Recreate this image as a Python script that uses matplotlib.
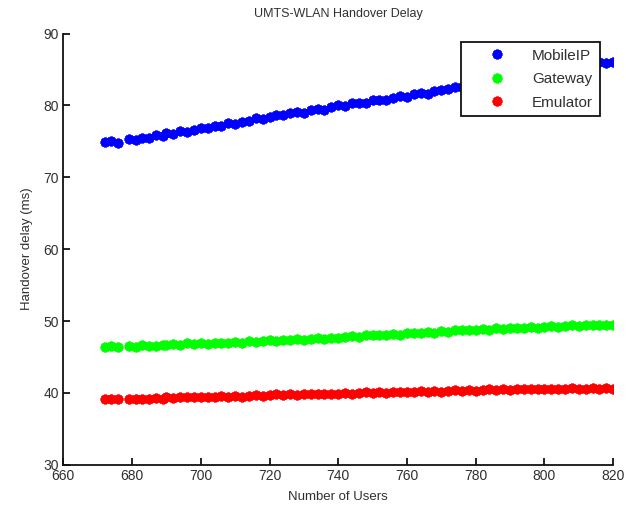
import matplotlib
matplotlib.use("Agg")

import matplotlib.pyplot as plt

# number of users (x) shared by all three series
users = [672, 674, 676,
         679, 681, 683, 685,
         687, 689,
         690, 692, 694, 696, 698, 700, 702, 704, 706, 708, 710, 712, 714, 716, 718,
         720, 722, 724, 726, 728, 730, 732, 734, 736, 738, 740, 742, 744, 746, 748,
         750, 752, 754, 756, 758, 760, 762, 764, 766, 768, 770, 772, 774, 776, 778,
         780, 782, 784, 786, 788, 790, 792, 794, 796, 798, 800, 802, 804, 806, 808,
         810, 812, 814, 816, 818, 820]

mobileip = [74.9, 75.0, 74.8,
            75.3, 75.2, 75.5, 75.4,
            75.9, 75.8,
            76.1, 76.0, 76.4, 76.3, 76.6, 76.9, 76.8, 77.2, 77.1, 77.5, 77.4, 77.7, 77.8, 78.2, 78.1,
            78.4, 78.7, 78.6, 79.0, 79.1, 79.0, 79.4, 79.5, 79.4, 79.8, 80.0, 79.9, 80.3, 80.4, 80.3,
            80.7, 80.8, 80.7, 81.1, 81.3, 81.2, 81.6, 81.7, 81.6, 82.0, 82.1, 82.3, 82.5, 82.6, 82.8,
            83.0, 83.1, 83.3, 83.5, 83.6, 83.8, 84.0, 84.1, 84.3, 84.5, 84.6, 84.8, 85.0, 85.2, 85.4,
            85.5, 85.7, 85.8, 86.0, 85.9, 86.1]

gateway = [46.4, 46.5, 46.4,
           46.5, 46.4, 46.6, 46.5,
           46.5, 46.6,
           46.7, 46.8, 46.7, 46.9, 46.8, 46.9, 46.8, 47.0, 46.9, 47.0, 47.1, 47.0, 47.2, 47.1, 47.2,
           47.3, 47.2, 47.4, 47.3, 47.5, 47.4, 47.5, 47.6, 47.5, 47.7, 47.7, 47.8, 47.9, 47.8, 48.0,
           48.0, 48.1, 48.0, 48.2, 48.1, 48.3, 48.3, 48.4, 48.5, 48.4, 48.6, 48.5, 48.7, 48.8, 48.7,
           48.8, 48.9, 48.8, 49.0, 48.9, 49.0, 49.1, 49.0, 49.2, 49.1, 49.2, 49.3, 49.2, 49.3, 49.4,
           49.3, 49.4, 49.5, 49.4, 49.5, 49.5]

emulator = [39.1, 39.2, 39.1,
            39.1, 39.2, 39.1, 39.2,
            39.3, 39.2,
            39.4, 39.3, 39.4, 39.5, 39.4, 39.5, 39.4, 39.5, 39.6, 39.5, 39.6, 39.5, 39.6, 39.7, 39.6,
            39.7, 39.8, 39.7, 39.8, 39.7, 39.8, 39.9, 39.8, 39.9, 39.8, 39.9, 40.0, 39.9, 40.0, 40.1,
            40.0, 40.1, 40.0, 40.1, 40.2, 40.1, 40.2, 40.3, 40.2, 40.3, 40.2, 40.3, 40.4, 40.3, 40.4,
            40.3, 40.4, 40.5, 40.4, 40.5, 40.4, 40.5, 40.6, 40.5, 40.6, 40.5, 40.6, 40.5, 40.6, 40.7,
            40.6, 40.6, 40.7, 40.6, 40.7, 40.6]

x_ticks = [660, 680, 700, 720, 740, 760, 780, 800, 820]
y_ticks = [30, 40, 50, 60, 70, 80, 90]

plt.rcParams["font.family"] = ["Liberation Sans", "DejaVu Sans"]
text_color = "#303030"

fig = plt.figure(figsize=(6.4, 5.08), dpi=100)
ax = fig.add_axes([0.099, 0.085, 0.859, 0.849])

# MATLAB-style asterisk markers
star = (8, 2, 0)
ax.plot(users, mobileip, linestyle="none", marker=star, markersize=7, mew=2.0,
        color="#0000ff", label="MobileIP")
ax.plot(users, gateway, linestyle="none", marker=star, markersize=7, mew=2.0,
        color="#00ff00", label="Gateway")
ax.plot(users, emulator, linestyle="none", marker=star, markersize=7, mew=2.0,
        color="#ff0000", label="Emulator")

ax.set_xlim(660, 820)
ax.set_ylim(30, 90)
ax.set_xticks(x_ticks)
ax.set_yticks(y_ticks)

for side in ("top", "right"):
    ax.spines[side].set_visible(False)
for side in ("left", "bottom"):
    ax.spines[side].set_linewidth(1.3)
    ax.spines[side].set_color("#111111")

ax.tick_params(direction="in", length=5, width=1.2, labelsize=10,
               labelcolor=text_color, pad=3)

ax.set_title("UMTS-WLAN Handover Delay", fontsize=9, color=text_color, pad=12)
ax.set_xlabel("Number of Users", fontsize=9.5, color=text_color, labelpad=6)
ax.set_ylabel("Handover delay (ms)", fontsize=9.5, color=text_color, labelpad=8)

leg = ax.legend(loc="upper right", bbox_to_anchor=(0.976, 0.981), borderaxespad=0,
                fontsize=11, fancybox=False, framealpha=1, edgecolor="#111111",
                handlelength=3.8, handletextpad=0.4, labelspacing=0.62,
                borderpad=0.45, numpoints=1)
leg.get_frame().set_linewidth(1.3)
for t in leg.get_texts():
    t.set_color(text_color)

plt.savefig("out.png", dpi=100)
plt.close()
